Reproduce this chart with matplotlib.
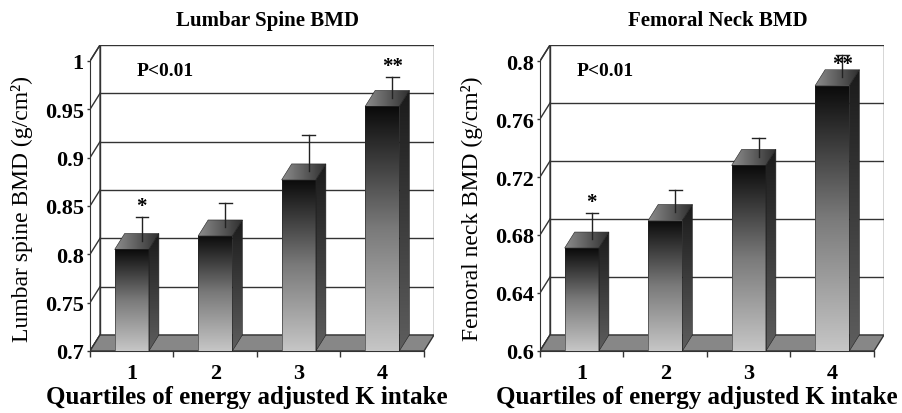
import numpy as np
import matplotlib
matplotlib.use('Agg')
import matplotlib.pyplot as plt
from matplotlib.patches import Polygon
from matplotlib.colors import LinearSegmentedColormap

# ---------------- data ----------------
quartiles = ['1', '2', '3', '4']
lumbar_mean = [0.805, 0.819, 0.877, 0.953]
lumbar_se = [0.017, 0.018, 0.030, 0.014]
femoral_mean = [0.671, 0.690, 0.728, 0.783]
femoral_se = [0.013, 0.010, 0.008, 0.010]
lumbar_ticks = [0.7, 0.75, 0.8, 0.85, 0.9, 0.95, 1.0]
lumbar_ticklabels = ['0.7', '0.75', '0.8', '0.85', '0.9', '0.95', '1']
femoral_ticks = [0.6, 0.64, 0.68, 0.72, 0.76, 0.8]
femoral_ticklabels = ['0.6', '0.64', '0.68', '0.72', '0.76', '0.8']
lumbar_marks = ['*', '', '', '**']
femoral_marks = ['*', '', '', '**']
p_text = 'P<0.01'
xlabel_text = 'Quartiles of energy adjusted K intake'

SERIF = ['Liberation Serif', 'DejaVu Serif']
W, H = 903, 414
fig = plt.figure(figsize=(W / 100, H / 100), dpi=100)

front_cmap = LinearSegmentedColormap.from_list('f', ['#c6c6c6', '#7a7a7a', '#0a0a0a'])
side_cmap = LinearSegmentedColormap.from_list('s', ['#5e5e5e', '#1a1a1a'])
top_cmap = LinearSegmentedColormap.from_list('t', ['#8c8c8c', '#2e2e2e'])
LINE = '#333333'


def grad_poly(ax, pts, cmap, direction, z):
    pts = np.asarray(pts)
    poly = Polygon(pts, closed=True, facecolor='none', edgecolor='#222222',
                   lw=0.4, zorder=z + 0.1)
    ax.add_patch(poly)
    g = np.linspace(0, 1, 256)
    arr = g.reshape(-1, 1) if direction == 'v' else g.reshape(1, -1)
    im = ax.imshow(arr, cmap=cmap, origin='lower', aspect='auto',
                   extent=(pts[:, 0].min(), pts[:, 0].max(),
                           pts[:, 1].min(), pts[:, 1].max()),
                   zorder=z, interpolation='bilinear')
    clip = Polygon(pts, closed=True, transform=ax.transData)
    im.set_clip_path(clip)


def panel(left_px, means, ses, ticks, ticklabels, marks, title, ylabel, p_x_px):
    n = len(means)
    ymin, ymax = ticks[0], ticks[-1]
    front_top_px, back_top_px, bottom_px = 62, 46, 352
    DY = (ymax - ymin) * (front_top_px - back_top_px) / (bottom_px - front_top_px)
    DX = 0.12
    ax = fig.add_axes([left_px / W, (H - bottom_px) / H, 344 / W,
                       (bottom_px - back_top_px) / H])
    xl = (0.5, n + 0.5 + DX)
    yl = (ymin, ymax + DY)

    # back wall
    ax.add_patch(Polygon([(0.5 + DX, ymin + DY), (n + 0.5 + DX, ymin + DY),
                          (n + 0.5 + DX, ymax + DY), (0.5 + DX, ymax + DY)],
                         closed=True, facecolor='white', edgecolor=LINE, lw=1.0, zorder=1))
    # left wall
    ax.add_patch(Polygon([(0.5, ymin), (0.5 + DX, ymin + DY),
                          (0.5 + DX, ymax + DY), (0.5, ymax)],
                         closed=True, facecolor='white', edgecolor=LINE, lw=1.0, zorder=1))
    for t in ticks[1:-1]:
        ax.plot([0.5 + DX, n + 0.5 + DX], [t + DY, t + DY], color=LINE, lw=1.0, zorder=1.5)
    for t in ticks:
        ax.plot([0.5, 0.5 + DX], [t, t + DY], color=LINE, lw=1.0, zorder=1.5)
    # floor
    ax.add_patch(Polygon([(0.5, ymin), (n + 0.5, ymin), (n + 0.5 + DX, ymin + DY),
                          (0.5 + DX, ymin + DY)],
                         closed=True, facecolor='#878787', edgecolor=LINE, lw=1.0, zorder=2))

    # bars
    w = 0.41
    for i, (m, s, mk) in enumerate(zip(means, ses, marks)):
        c = i + 1
        x0, x1 = c - w / 2, c + w / 2
        grad_poly(ax, [(x0, ymin), (x1, ymin), (x1, m), (x0, m)], front_cmap, 'v', 3)
        grad_poly(ax, [(x1, ymin), (x1 + DX, ymin + DY), (x1 + DX, m + DY), (x1, m)],
                  side_cmap, 'v', 3)
        grad_poly(ax, [(x0, m), (x1, m), (x1 + DX, m + DY), (x0 + DX, m + DY)],
                  top_cmap, 'h', 3)
        ex = c + DX
        ax.plot([ex, ex], [m + DY * 0.55, m + s + DY], color='#222222', lw=1.0, zorder=5)
        ax.plot([ex - 0.075, ex + 0.075], [m + s + DY, m + s + DY], color='#222222',
                lw=1.0, zorder=5)
        if mk:
            top_lim = ymax + DY - (ymax - ymin) * 14 / 290
            ytxt = m + s + DY
            off = 6
            est = ytxt + (ymax - ymin) * 16 / 290
            if est > top_lim:
                off = 6 - (est - top_lim) / (ymax - ymin) * 290
            ax.annotate(mk, (ex, ytxt), xytext=(0, off), textcoords='offset pixels',
                        ha='center', va='baseline', fontsize=15, fontweight='bold',
                        family=SERIF, zorder=6)

    ax.set_xlim(*xl)
    ax.set_ylim(*yl)
    for sp in ['top', 'right']:
        ax.spines[sp].set_visible(False)
    ax.spines['left'].set_bounds(ymin, ymax)
    ax.spines['bottom'].set_bounds(0.5, n + 0.5)
    ax.spines['left'].set_color(LINE)
    ax.spines['bottom'].set_color(LINE)
    ax.spines['left'].set_zorder(7)
    ax.set_yticks(ticks)
    ax.set_yticklabels(ticklabels)
    ax.set_xticks(np.arange(0.5, n + 1, 1.0))
    ax.set_xticklabels([''] * (n + 1))
    ax.set_xticks(np.arange(1, n + 1), minor=True)
    ax.set_xticklabels(quartiles, minor=True)
    ax.tick_params(axis='y', length=2.5, width=1, color=LINE, pad=2)
    ax.tick_params(axis='x', which='major', length=4, width=1, color=LINE)
    ax.tick_params(axis='x', which='minor', length=0, pad=9)
    for lab in ax.get_yticklabels() + ax.get_xticklabels(minor=True):
        lab.set_fontfamily(SERIF)
        lab.set_fontweight('bold')
        lab.set_fontsize(16)

    ax.text((p_x_px - left_px) / 344, (bottom_px - 72) / (bottom_px - back_top_px),
            p_text, transform=ax.transAxes, ha='left', va='center',
            fontsize=14, fontweight='bold', family=SERIF, zorder=8)
    fig.text((left_px + 178) / W, 1 - 21 / H, title, ha='center', va='center',
             fontsize=15, fontweight='bold', family=SERIF)
    fig.text((left_px + 157) / W, 1 - 398 / H, xlabel_text, ha='center', va='center',
             fontsize=18, fontweight='bold', family=SERIF)
    fig.text((left_px - 68) / W, 1 - 209 / H, ylabel, ha='center', va='center',
             rotation=90, fontsize=17, family=SERIF)
    return ax


panel(90, lumbar_mean, lumbar_se, lumbar_ticks, lumbar_ticklabels, lumbar_marks,
      'Lumbar Spine BMD', 'Lumbar spine BMD (g/cm²)', 137)
panel(540, femoral_mean, femoral_se, femoral_ticks, femoral_ticklabels, femoral_marks,
      'Femoral Neck BMD', 'Femoral neck BMD (g/cm²)', 577)

fig.savefig('out.png', dpi=100)
